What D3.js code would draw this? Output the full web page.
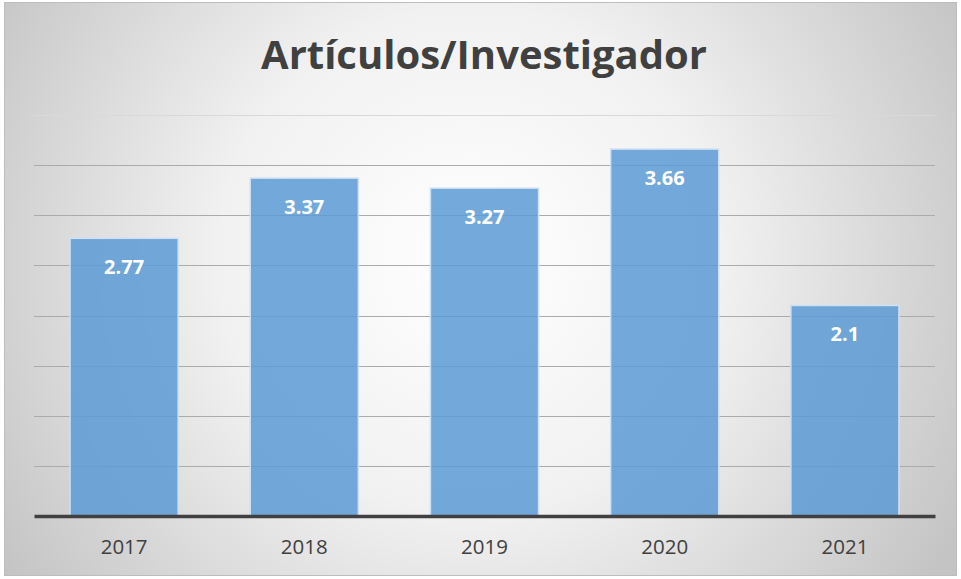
<!DOCTYPE html>
<meta charset="utf-8">
<script src="https://cdn.jsdelivr.net/npm/d3@7"></script>
<style>
  body { margin: 0; background: #fff; }
  text { font-family: "Open Sans", "Liberation Sans", sans-serif; }
</style>
<div id="my_dataviz"></div>
<script>

// data
var years = ["2017", "2018", "2019", "2020", "2021"];
var values = [2.77, 3.37, 3.27, 3.66, 2.1];
var gridTicks = [0.5, 1, 1.5, 2, 2.5, 3, 3.5, 4];
var title = "Artículos/Investigador";

var W = 961, H = 579;
var margin = {top: 115, right: 26, bottom: 63, left: 34},
    width = W - margin.left - margin.right,
    height = 516 - margin.top;

var svg = d3.select("#my_dataviz")
  .append("svg")
    .attr("width", W)
    .attr("height", H);

// background gradient
var defs = svg.append("defs");
var grad = defs.append("radialGradient")
    .attr("id", "bg")
    .attr("gradientUnits", "userSpaceOnUse")
    .attr("cx", 470).attr("cy", 260).attr("r", 560);
grad.append("stop").attr("offset", "0%").attr("stop-color", "#ffffff");
grad.append("stop").attr("offset", "45%").attr("stop-color", "#f1f1f1");
grad.append("stop").attr("offset", "100%").attr("stop-color", "#c4c4c4");

svg.append("rect")
  .attr("x", 4.5).attr("y", 2.5)
  .attr("width", 952).attr("height", 573)
  .attr("fill", "url(#bg)")
  .attr("stroke", "#bdbdbd")
  .attr("stroke-width", 1);

// title
svg.append("text")
  .attr("x", 484)
  .attr("y", 69)
  .attr("text-anchor", "middle")
  .style("font-size", "40px")
  .style("font-weight", "bold")
  .style("fill", "#404040")
  .text(title);

var g = svg.append("g")
  .attr("transform", "translate(" + margin.left + "," + margin.top + ")");

var x = d3.scaleBand()
  .domain(years)
  .range([0, width])
  .paddingInner(0.4)
  .paddingOuter(0.2);

var y = d3.scaleLinear()
  .domain([0, 4])
  .range([height, 0]);

// gridlines
g.selectAll("line.grid")
  .data(gridTicks)
  .enter()
  .append("line")
    .attr("class", "grid")
    .attr("x1", 0)
    .attr("x2", width)
    .attr("y1", function(d) { return Math.round(y(d)) + 0.5; })
    .attr("y2", function(d) { return Math.round(y(d)) + 0.5; })
    .attr("stroke", function(d) { return d == 4 ? "#d9d9d9" : "#ababab"; })
    .attr("stroke-width", 1.2);

// bars
g.selectAll("rect.bar")
  .data(values)
  .enter()
  .append("rect")
    .attr("class", "bar")
    .attr("x", function(d, i) { return x(years[i]); })
    .attr("y", function(d) { return y(d); })
    .attr("width", x.bandwidth())
    .attr("height", function(d) { return height - y(d); })
    .attr("fill", "#5b9bd5")
    .attr("fill-opacity", 0.85)
    .attr("stroke", "#cfe0f1")
    .attr("stroke-width", 1.5);

// value labels
g.selectAll("text.val")
  .data(values)
  .enter()
  .append("text")
    .attr("class", "val")
    .attr("x", function(d, i) { return x(years[i]) + x.bandwidth() / 2; })
    .attr("y", function(d) { return y(d) + 36; })
    .attr("text-anchor", "middle")
    .style("font-size", "20px")
    .style("font-weight", "bold")
    .style("fill", "#ffffff")
    .text(function(d) { return d; });

// x axis
var xAxis = g.append("g")
  .attr("transform", "translate(0," + height + ")")
  .call(d3.axisBottom(x).tickSize(0).tickPadding(23));
xAxis.select(".domain")
  .attr("stroke", "#404040")
  .attr("stroke-width", 3.5);
xAxis.selectAll("text")
  .style("font-size", "20.5px")
  .style("fill", "#404040")
  .style("font-family", "\"Open Sans\", sans-serif");

</script>
